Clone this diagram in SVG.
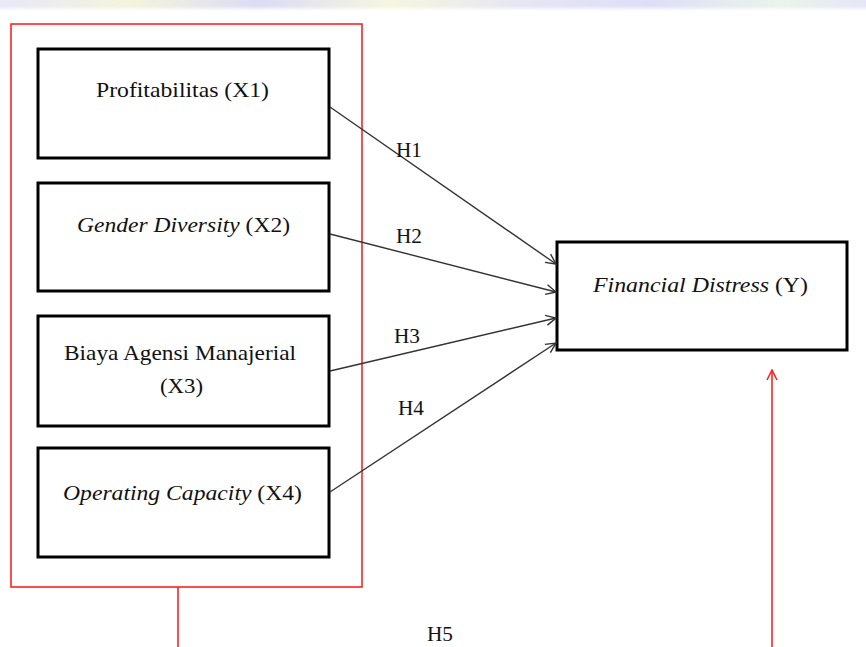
<svg xmlns="http://www.w3.org/2000/svg" width="866" height="647" viewBox="0 0 866 647">
<style>
.node{fill:#fff;stroke:#000;stroke-width:3}
.t{font-family:"Liberation Serif","Times New Roman",serif;font-size:21px;fill:#111}
.i{font-style:italic}
.edge{stroke:#333;stroke-width:1.4;fill:none}
.red{stroke:#f22;stroke-width:1.6;fill:none}
</style>
<defs>
<marker id="ah" viewBox="0 0 12 12" refX="11" refY="6" markerWidth="12" markerHeight="12" markerUnits="userSpaceOnUse" orient="auto">
<path d="M1,1 L11,6 L1,11" fill="none" stroke="#333" stroke-width="1.4"/>
</marker>
<marker id="ahr" viewBox="0 0 12 12" refX="11" refY="6" markerWidth="12" markerHeight="12" markerUnits="userSpaceOnUse" orient="auto">
<path d="M1,1 L11,6 L1,11" fill="none" stroke="#f22" stroke-width="1.6"/>
</marker>
<linearGradient id="wm" x1="0" y1="0" x2="1" y2="0">
<stop offset="0" stop-color="#e8e8f8"/>
<stop offset="0.15" stop-color="#f4f4dc"/>
<stop offset="0.3" stop-color="#dcdcf6"/>
<stop offset="0.45" stop-color="#f6f6e0"/>
<stop offset="0.6" stop-color="#e6e6f4"/>
<stop offset="0.75" stop-color="#dedef8"/>
<stop offset="0.9" stop-color="#eaf4ea"/>
<stop offset="1" stop-color="#e6e6f8"/>
</linearGradient>
<linearGradient id="fade" x1="0" y1="0" x2="0" y2="1">
<stop offset="0" stop-color="#fff" stop-opacity="0"/>
<stop offset="1" stop-color="#fff" stop-opacity="1"/>
</linearGradient>
</defs>
<rect width="866" height="647" fill="#fff"/>
<rect x="0" y="0" width="866" height="11" fill="url(#wm)"/>
<rect x="0" y="6" width="866" height="5" fill="url(#fade)"/>

<g id="group-box">
<rect x="11" y="24" width="351" height="563" class="red"/>
</g>

<g id="x1">
<rect x="38" y="49" width="291" height="109" class="node"/>
<text class="t" x="96" y="97" textLength="173" lengthAdjust="spacingAndGlyphs">Profitabilitas (X1)</text>
</g>
<g id="x2">
<rect x="38" y="183" width="291" height="108" class="node"/>
<text class="t" x="77" y="232" textLength="213" lengthAdjust="spacingAndGlyphs"><tspan class="i">Gender  Diversity</tspan> (X2)</text>
</g>
<g id="x3">
<rect x="38" y="316" width="291" height="110" class="node"/>
<text class="t" x="64" y="360" textLength="232" lengthAdjust="spacingAndGlyphs">Biaya Agensi Manajerial</text>
<text class="t" x="160" y="393" textLength="43" lengthAdjust="spacingAndGlyphs">(X3)</text>
</g>
<g id="x4">
<rect x="38" y="448" width="291" height="109" class="node"/>
<text class="t" x="63" y="500" textLength="239" lengthAdjust="spacingAndGlyphs"><tspan class="i">Operating  Capacity</tspan> (X4)</text>
</g>
<g id="y">
<rect x="557" y="242" width="290" height="108" class="node"/>
<text class="t" x="593" y="292" textLength="215" lengthAdjust="spacingAndGlyphs"><tspan class="i">Financial Distress</tspan>  (Y)</text>
</g>

<g id="connectors">
<line x1="330" y1="107" x2="556" y2="264" class="edge" marker-end="url(#ah)"/>
<line x1="330" y1="234" x2="556" y2="292" class="edge" marker-end="url(#ah)"/>
<line x1="330" y1="371" x2="556" y2="318" class="edge" marker-end="url(#ah)"/>
<line x1="330" y1="492" x2="556" y2="343" class="edge" marker-end="url(#ah)"/>
<polyline points="178,587 178,647" class="red"/>
<line x1="772" y1="647" x2="772" y2="370" class="red" marker-end="url(#ahr)"/>
</g>

<g id="labels">
<text class="t" x="396" y="157" textLength="26" lengthAdjust="spacingAndGlyphs">H1</text>
<text class="t" x="396" y="243" textLength="26" lengthAdjust="spacingAndGlyphs">H2</text>
<text class="t" x="394" y="343" textLength="26" lengthAdjust="spacingAndGlyphs">H3</text>
<text class="t" x="398" y="415" textLength="26" lengthAdjust="spacingAndGlyphs">H4</text>
<text class="t" x="427" y="641" textLength="26" lengthAdjust="spacingAndGlyphs">H5</text>
</g>
</svg>
